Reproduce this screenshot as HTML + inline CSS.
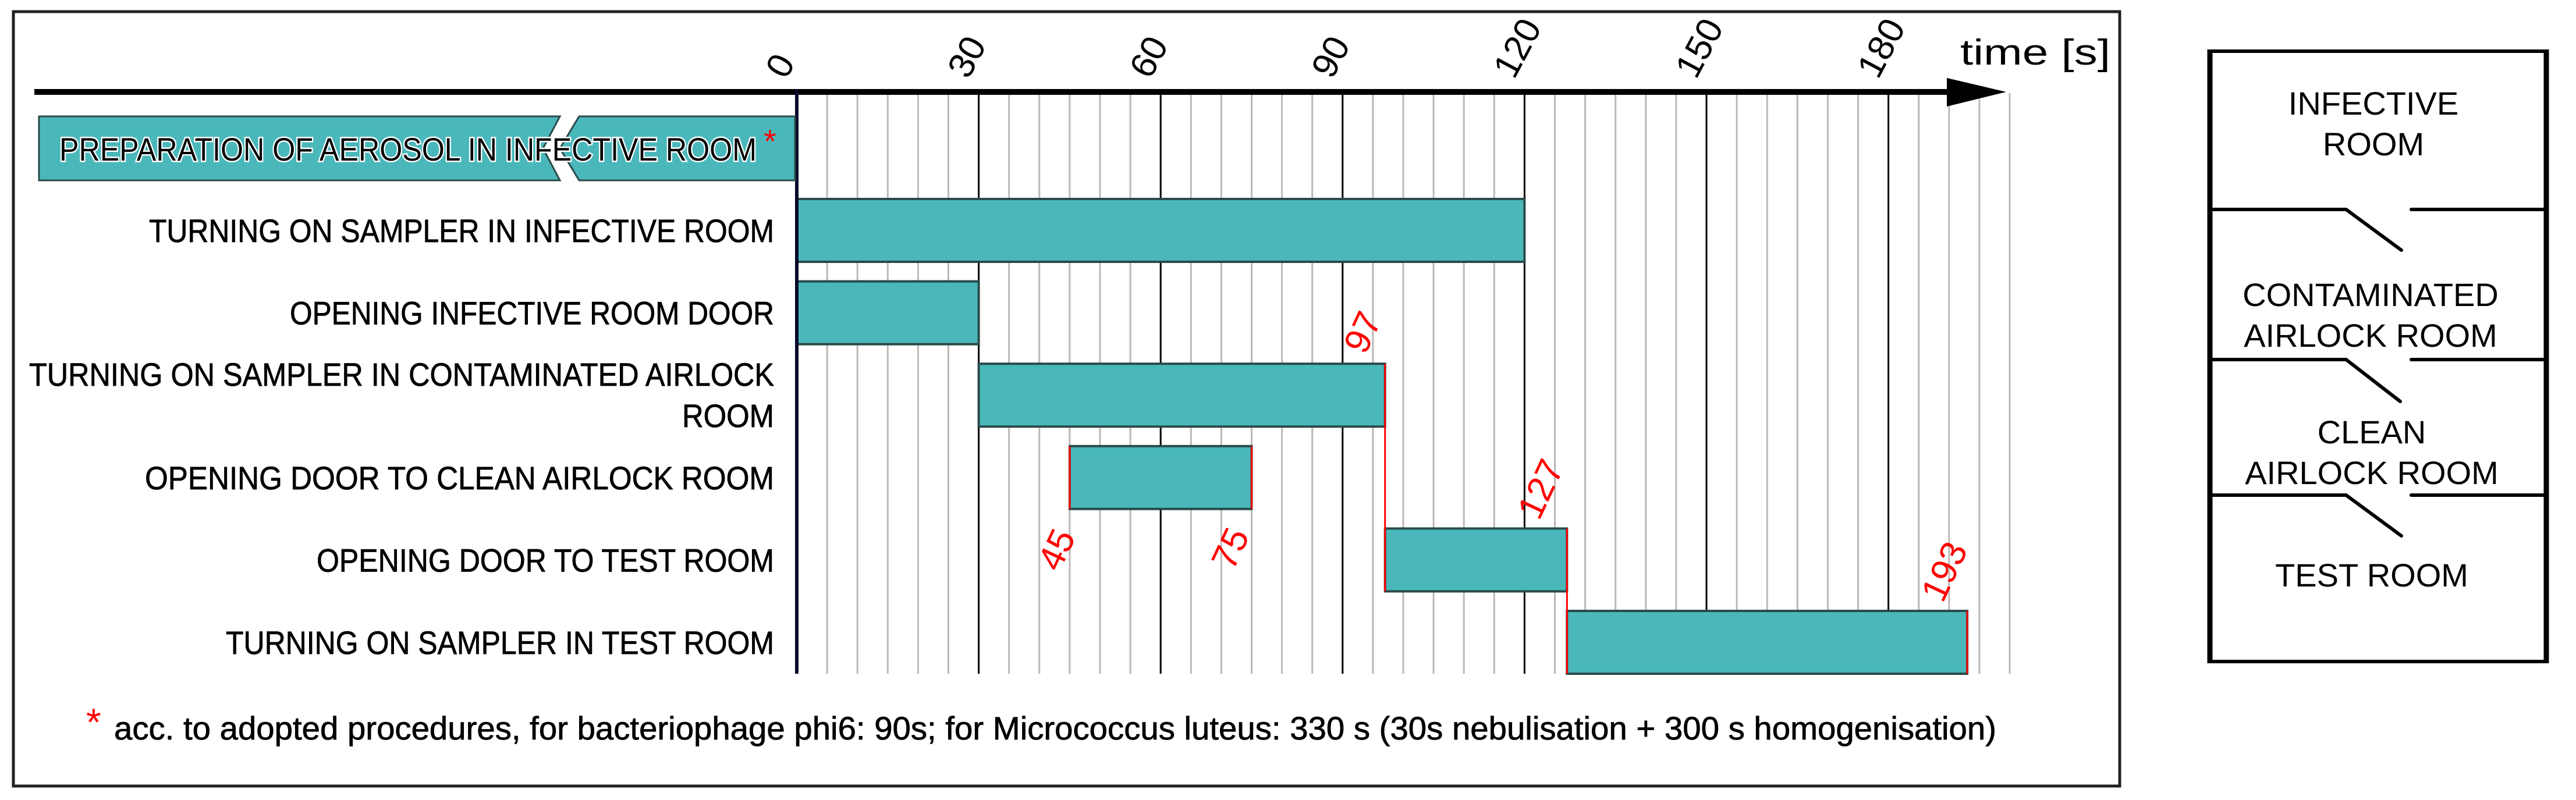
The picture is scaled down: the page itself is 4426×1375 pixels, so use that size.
<!DOCTYPE html>
<html><head><meta charset="utf-8"><style>
html,body{margin:0;padding:0;background:#fff;}
svg{display:block;}
text{font-family:"Liberation Sans",Arial,sans-serif;}
</style></head><body>
<svg id="chart" width="4426" height="1375" viewBox="0 0 4426 1375" xmlns="http://www.w3.org/2000/svg">
<rect x="23" y="20" width="3619" height="1331" fill="#fff" stroke="#222" stroke-width="5"/>
<g id="grid"></g>
<g id="bars"></g>
<g id="labels"></g>
<g id="axis"></g>
<g id="notes"></g>

<g>
<polygon points="67,200 962,200 933,255 962,310 67,310" fill="#4ab8bb" stroke="#2a4a4a" stroke-width="3"/>
<polygon points="995,200 1366,200 1366,310 995,310 962,255" fill="#4ab8bb" stroke="#2a4a4a" stroke-width="3"/>
<text x="102" y="276" font-size="56" textLength="1198" lengthAdjust="spacingAndGlyphs" fill="#000" stroke="#fff" stroke-width="5" paint-order="stroke">PREPARATION OF AEROSOL IN INFECTIVE ROOM</text>
<text x="1312" y="262" font-size="56" fill="#ff0000">*</text>
</g>

<text x="148" y="1264" font-size="66" fill="#ff0000">*</text>
<text x="196" y="1271" font-size="56" textLength="3234" lengthAdjust="spacingAndGlyphs" fill="#000" stroke="#000" stroke-width="0.8">acc. to adopted procedures, for bacteriophage phi6: 90s; for Micrococcus luteus: 330 s (30s nebulisation + 300 s homogenisation)</text>

<g>
<line x1="3795" y1="88" x2="4377" y2="88" stroke="#000" stroke-width="6"/>
<line x1="3795" y1="1137" x2="4377" y2="1137" stroke="#000" stroke-width="6"/>
<line x1="3797" y1="85" x2="3797" y2="1140" stroke="#000" stroke-width="9"/>
<line x1="4375" y1="85" x2="4375" y2="1140" stroke="#000" stroke-width="9"/>
<g stroke="#000" stroke-width="6" fill="none" stroke-linecap="round">
<polyline points="3797,360 4031,360 4126,430"/><line x1="4143" y1="360" x2="4375" y2="360"/></g>
<g stroke="#000" stroke-width="6" fill="none" stroke-linecap="round">
<polyline points="3797,618 4031,618 4124,690"/><line x1="4143" y1="618" x2="4375" y2="618"/></g>
<g stroke="#000" stroke-width="6" fill="none" stroke-linecap="round">
<polyline points="3797,851 4031,851 4126,921"/><line x1="4143" y1="851" x2="4375" y2="851"/></g>
<g font-size="56" text-anchor="middle" fill="#000">
<text x="4078" y="197">INFECTIVE</text>
<text x="4078" y="267">ROOM</text>
<text x="4073" y="526">CONTAMINATED</text>
<text x="4073" y="596">AIRLOCK ROOM</text>
<text x="4075" y="762">CLEAN</text>
<text x="4075" y="832">AIRLOCK ROOM</text>
<text x="4075" y="1008">TEST ROOM</text>
</g>
</g>
</svg>
<script>
const categories = ["TURNING ON SAMPLER IN INFECTIVE ROOM","OPENING INFECTIVE ROOM DOOR","TURNING ON SAMPLER IN CONTAMINATED AIRLOCK|ROOM","OPENING DOOR TO  CLEAN AIRLOCK ROOM","OPENING DOOR TO TEST ROOM","TURNING ON SAMPLER IN TEST ROOM"];
const starts = [0, 0, 30, 45, 97, 127];
const ends = [120, 30, 97, 75, 127, 193];
const tickValues = [0, 30, 60, 90, 120, 150, 180];
const tickLabels = ["0","30","60","90","120","150","180"];
const markValues = [97, 45, 75, 127, 193];
const labelWidths = [[1074], [832], [1280, 158], [1081], [786], [942]];

const NS = "http://www.w3.org/2000/svg";
const X0 = 1369, PX = 10.42;
const xs = v => X0 + v * PX;
const rowTop = i => 342 + i * 141.6;
const BH = 108, GT = 160, GB = 1158;
function mk(tag, attrs, parent) {
  const e = document.createElementNS(NS, tag);
  for (const k in attrs) e.setAttribute(k, attrs[k]);
  parent.appendChild(e); return e;
}
const grid = document.getElementById('grid'), bars = document.getElementById('bars'),
      labels = document.getElementById('labels'), axis = document.getElementById('axis'),
      notes = document.getElementById('notes');
for (let v = 5; v <= 200; v += 5) {
  const major = v % 30 === 0;
  const l = mk('line', {x1: xs(v), x2: xs(v), y1: GT, y2: GB, stroke: major ? '#000' : '#bdb8b8', 'stroke-width': 3}, grid);
  
  
}
categories.forEach((c, i) => {
  const t = rowTop(i);
  const r = mk('rect', {x: xs(starts[i]), y: t, width: xs(ends[i]) - xs(starts[i]), height: BH, fill: '#4ab8bb', stroke: '#2a4a4a', 'stroke-width': 4}, bars);
  
  
  const parts = c.split('|');
  parts.forEach((p, j) => {
    const w = labelWidths[i][j];
    const y = parts.length === 1 ? t + 74 : t + 38 + j * 71;
    const tx = mk('text', {x: 1330 - w, y: y, 'font-size': 56, fill: '#000', stroke: '#000', 'stroke-width': 0.8, textLength: w, lengthAdjust: 'spacingAndGlyphs'}, labels);
    tx.textContent = p;
    
    
  });
});
function red(x, y1, y2, name) {
  const l = mk('line', {x1: x, x2: x, y1: y1, y2: y2, stroke: '#ff0000', 'stroke-width': 3}, notes);
  
  
}
red(xs(ends[2]), rowTop(2), rowTop(4) + BH, 'marker-line-97');
red(xs(starts[3]), rowTop(3), rowTop(3) + BH, 'marker-line-45');
red(xs(ends[3]), rowTop(3), rowTop(3) + BH, 'marker-line-75');
red(xs(ends[4]), rowTop(4), rowTop(5) + BH, 'marker-line-127');
red(xs(ends[5]), rowTop(5), rowTop(5) + BH, 'marker-line-193');
const markY = [rowTop(2) - 14, rowTop(3) + BH + 110, rowTop(3) + BH + 108, rowTop(4) - 12, rowTop(5) - 12];
const markDx = [-34, -18, -32, -48, -42];
markValues.forEach((v, i) => {
  const x = xs(v) + markDx[i], y = markY[i];
  const t = mk('text', {x: x, y: y, 'font-size': 62, fill: '#ff0000', transform: `rotate(-65 ${x} ${y})`}, notes);
  t.textContent = String(v);
  
  
});
let a = mk('line', {x1: 59, x2: 3355, y1: 158, y2: 158, stroke: '#000', 'stroke-width': 10}, axis);
 
a = mk('polygon', {points: '3345,134 3447,158 3345,183', fill: '#000'}, axis);
 
a = mk('line', {x1: X0, x2: X0, y1: 153, y2: GB, stroke: '#0a0a2a', 'stroke-width': 6}, axis);
 
tickValues.forEach((v, i) => {
  const x = xs(v) - 18, y = 138;
  const t = mk('text', {x: x, y: y, 'font-size': 62, fill: '#000', transform: `rotate(-62 ${x} ${y})`}, axis);
  t.textContent = tickLabels[i];
  
  
});
a = mk('text', {x: 3368, y: 111, 'font-size': 62, fill: '#000', textLength: 258, lengthAdjust: 'spacingAndGlyphs'}, axis);
a.textContent = 'time [s]';
 
</script>
</body></html>
